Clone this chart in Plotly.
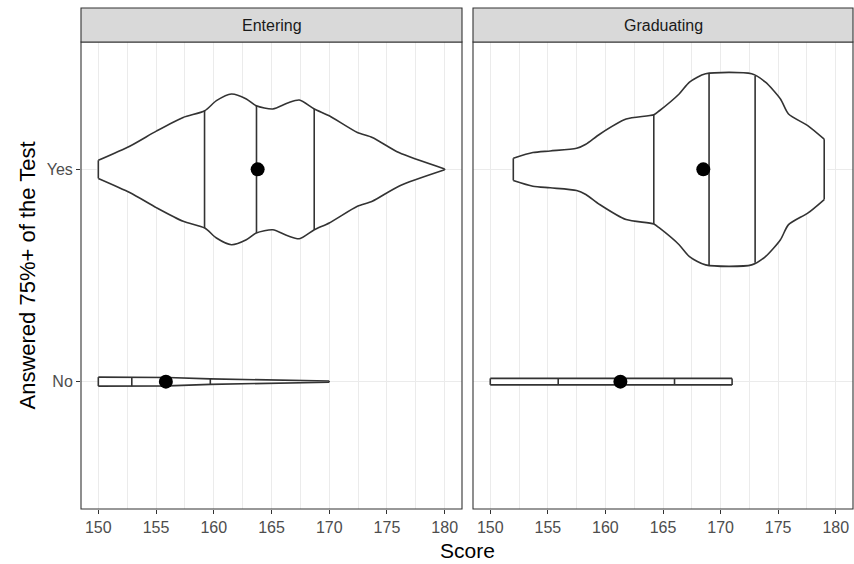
import numpy as np
import plotly.graph_objects as go

# ---- data -------------------------------------------------------------
facets = ["Entering", "Graduating"]
levels = ["No", "Yes"]            # y positions 1 and 2

# density outlines: score grid and relative half-width (1 = widest violin)
ent_yes_score = [150.0, 152.76, 155.06, 157.35, 159.22, 160.23, 161.53, 162.82, 163.68,
                 165.11, 166.4, 167.41, 168.71, 170.0, 172.44, 173.73, 176.03, 180.0]
ent_yes_dens = [0.095, 0.245, 0.403, 0.544, 0.614, 0.719, 0.789, 0.737, 0.666,
                0.632, 0.695, 0.726, 0.632, 0.561, 0.386, 0.334, 0.176, 0.005]

ent_no_score = [150.0, 153.0, 156.0, 159.7, 163.0, 166.5, 170.0]
ent_no_dens = [0.047, 0.047, 0.044, 0.029, 0.021, 0.015, 0.006]

grad_yes_score = [152.0, 153.7, 155.2, 157.5, 158.3, 159.5, 161.8, 164.2, 164.66, 166.4,
                  167.3, 168.7, 172.7, 173.9, 175.2, 175.9, 177.6, 179.0]
grad_yes_dens = [0.116, 0.176, 0.193, 0.221, 0.263, 0.368, 0.526, 0.572, 0.611, 0.789,
                 0.913, 1.0, 1.0, 0.913, 0.737, 0.579, 0.456, 0.316]

grad_no_score = [150.0, 160.5, 171.0]
grad_no_dens = [0.034, 0.034, 0.034]

# quartiles (25/50/75%) and means
ent_yes_q = [159.2, 163.7, 168.7]
ent_no_q = [152.9, 156.0, 159.7]
grad_yes_q = [164.2, 169.0, 173.0]
grad_no_q = [155.9, 161.2, 166.0]

ent_means = [155.85, 163.8]       # No, Yes
grad_means = [161.3, 168.5]       # No, Yes

x_ticks = [150, 155, 160, 165, 170, 175, 180]

# ---- styling ----------------------------------------------------------
W, H = 854, 564
HALF_MAX = 0.45                   # half of violin width 0.9
OUTLINE = "#333333"
GRID = "#EBEBEB"
FONT = "Liberation Sans, Arial, sans-serif"
LW = 1.6

px = lambda v: v / W
py = lambda v: 1 - v / H

panel_x = [(px(81), px(462)), (px(473), px(853))]
panel_y = (py(509), py(42))
strip_y = (py(42), py(8))

violins = {
    "Entering": [(1, ent_no_score, ent_no_dens, ent_no_q), (2, ent_yes_score, ent_yes_dens, ent_yes_q)],
    "Graduating": [(1, grad_no_score, grad_no_dens, grad_no_q), (2, grad_yes_score, grad_yes_dens, grad_yes_q)],
}
means = {"Entering": ent_means, "Graduating": grad_means}

fig = go.Figure()


def line_trace(x, y, xa, ya, shape="linear", **kw):
    return go.Scatter(x=x, y=y, mode="lines",
                      line=dict(color=OUTLINE, width=LW, shape=shape, **kw),
                      xaxis=xa, yaxis=ya, hoverinfo="skip", showlegend=False)


for i, facet in enumerate(facets):
    xa = "x" if i == 0 else "x2"
    ya = "y" if i == 0 else "y2"
    for lvl, sc, dn, qs in violins[facet]:
        sc = np.asarray(sc)
        hw = np.asarray(dn) * HALF_MAX
        # wide violins get a smooth outline, thin ones stay straight
        shape = "spline" if hw.max() > 0.1 else "linear"
        # white body
        xs = np.concatenate([sc, sc[::-1], sc[:1]])
        ys = np.concatenate([lvl + hw, (lvl - hw)[::-1], [lvl + hw[0]]])
        fig.add_trace(go.Scatter(
            x=xs, y=ys, mode="lines", fill="toself", fillcolor="white",
            line=dict(width=0, shape=shape, smoothing=0.7),
            xaxis=xa, yaxis=ya, hoverinfo="skip", showlegend=False))
        # upper and lower outline
        fig.add_trace(line_trace(sc, lvl + hw, xa, ya, shape, smoothing=0.7))
        fig.add_trace(line_trace(sc, lvl - hw, xa, ya, shape, smoothing=0.7))
        # flat end caps
        fig.add_trace(line_trace([sc[0], sc[0], None, sc[-1], sc[-1]],
                                 [lvl - hw[0], lvl + hw[0], None, lvl - hw[-1], lvl + hw[-1]],
                                 xa, ya))
        # quartile lines
        qx, qy = [], []
        for q in qs:
            h = np.interp(q, sc, hw)
            qx += [q, q, None]
            qy += [lvl - h, lvl + h, None]
        fig.add_trace(line_trace(qx, qy, xa, ya))
    fig.add_trace(go.Scatter(
        x=means[facet], y=[1, 2], mode="markers",
        marker=dict(color="black", size=14),
        xaxis=xa, yaxis=ya, showlegend=False))

xaxis_common = dict(
    range=[148.5, 181.5], tickmode="array", tickvals=x_ticks,
    ticktext=[str(t) for t in x_ticks],
    showgrid=True, gridcolor=GRID, gridwidth=1.3,
    minor=dict(dtick=2.5, tick0=147.5, showgrid=True, gridcolor=GRID, gridwidth=0.8),
    zeroline=False, showline=False,
    ticks="outside", ticklen=4, tickwidth=1, tickcolor=OUTLINE,
    tickfont=dict(family=FONT, size=16, color="#4D4D4D"),
    automargin=False, fixedrange=True)
yaxis_common = dict(
    range=[0.4, 2.6], tickmode="array", tickvals=[1, 2], ticktext=levels,
    showgrid=True, gridcolor=GRID, gridwidth=1.3,
    zeroline=False, showline=False,
    automargin=False, fixedrange=True)

fig.update_layout(
    width=W, height=H, autosize=False,
    margin=dict(l=0, r=0, t=0, b=0),
    paper_bgcolor="white", plot_bgcolor="white",
    xaxis=dict(domain=panel_x[0], anchor="y", **xaxis_common),
    xaxis2=dict(domain=panel_x[1], anchor="y2", **xaxis_common),
    yaxis=dict(domain=panel_y, anchor="x", ticks="outside", ticklen=4, tickwidth=1,
               tickcolor=OUTLINE, tickfont=dict(family=FONT, size=16, color="#4D4D4D"),
               **yaxis_common),
    yaxis2=dict(domain=panel_y, anchor="x2", showticklabels=False, ticks="",
                **yaxis_common),
)

shapes = []
annotations = []
for i, facet in enumerate(facets):
    x0, x1 = panel_x[i]
    # panel border
    shapes.append(dict(type="rect", xref="paper", yref="paper", x0=x0, x1=x1,
                       y0=panel_y[0], y1=panel_y[1], line=dict(color=OUTLINE, width=1.1),
                       fillcolor="rgba(0,0,0,0)", layer="above"))
    # facet strip
    shapes.append(dict(type="rect", xref="paper", yref="paper", x0=x0, x1=x1,
                       y0=strip_y[0], y1=strip_y[1], line=dict(color=OUTLINE, width=1.1),
                       fillcolor="#D9D9D9", layer="above"))
    annotations.append(dict(text=facet, xref="paper", yref="paper",
                            x=(x0 + x1) / 2, y=(strip_y[0] + strip_y[1]) / 2,
                            xanchor="center", yanchor="middle", showarrow=False,
                            font=dict(family=FONT, size=16, color="#1A1A1A")))

annotations.append(dict(text="Score", xref="paper", yref="paper",
                        x=(panel_x[0][0] + panel_x[1][1]) / 2, y=py(550),
                        xanchor="center", yanchor="middle", showarrow=False,
                        font=dict(family=FONT, size=21, color="black")))
annotations.append(dict(text="Answered 75%+ of the Test", xref="paper", yref="paper",
                        x=px(27), y=(panel_y[0] + panel_y[1]) / 2, textangle=-90,
                        xanchor="center", yanchor="middle", showarrow=False,
                        font=dict(family=FONT, size=22, color="black")))

fig.update_layout(shapes=shapes, annotations=annotations)
fig.write_html("out.html")
